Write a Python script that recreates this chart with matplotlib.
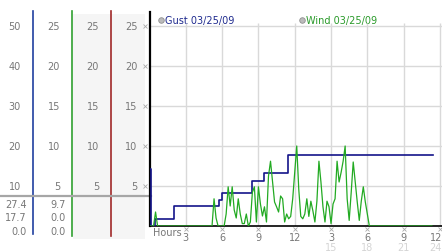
import matplotlib
matplotlib.use('Agg')
import matplotlib.pyplot as plt
import matplotlib.transforms as mtransforms
import numpy as np

# gust: step series (hours, value on the 0-50 scale)
gust_hours = [0, 0.1, 0.45, 2.0, 5.75, 6.0, 8.5, 9.5, 11.45, 23.4]
gust_vals = [14.25, 0, 1.75, 5.0, 6.5, 8.25, 11.25, 13.25, 17.7, 17.7]

# wind: one reading every 10 minutes (0-25 scale)
wind_vals = ([0, 0, 0, 1.75] + [0] * 28 +
             [3.4, 1.0, 0, 0, 0, 0, 1.5, 4.9, 2.5, 4.9,
              2.0, 1.0, 3.4, 1.5, 0.3, 0.3, 1.5, 0, 0.5, 4.2,
              4.9, 0.5, 4.9, 2.75, 1.25, 2.4, 0.5, 6.25, 8.1, 5.5,
              3.0, 2.4, 1.75, 3.75, 3.4, 0.5, 1.5, 0.9, 1.2, 3.4,
              6.7, 10.0, 4.6, 1.2, 0.9, 1.5, 3.4, 1.2, 3.1, 1.9,
              0.5, 3.1, 8.1, 5.5, 2.4, 0.5, 3.1, 2.4, 0.3, 2.75,
              3.4, 8.1, 5.5, 6.7, 8.1, 10.0, 3.4, 0.7, 4.2, 8.0,
              5.5, 3.0, 0.7, 3.1, 4.9, 3.0, 1.5] + [0] * 32)

left_scale = [50, 40, 30, 20, 10]
right_scale = [25, 20, 15, 10, 5]
hour_ticks = [3, 6, 9, 12, 15, 18, 21, 24]
hour_labels = ['3', '6', '9', '12', '3', '6', '9', '12']
hour_labels2 = ['', '', '', '', '15', '18', '21', '24']
gust_stats = ['27.4', '17.7', '0.0']
wind_stats = ['9.7', '0.0', '0.0']

navy = '#14148a'
green = '#22aa22'
txt = '#777777'
fs = 7
plt.rcParams['font.family'] = 'DejaVu Sans'

fig = plt.figure(figsize=(4.42, 2.53), dpi=100, facecolor='white')

# pixel-space layer for the left panel
bg = fig.add_axes([0, 0, 1, 1])
bg.set_xlim(0, 442)
bg.set_ylim(253, 0)
bg.axis('off')

xmax = 24.17
ax = fig.add_axes([149.5 / 442, 1 - 227 / 253, 292.5 / 442, 214 / 253])
ax.patch.set_visible(False)
ax.set_xlim(0, xmax)
ax.set_ylim(0, 53.5)
ax.set_xticks([])
ax.set_yticks([])
for s in ['top', 'right']:
    ax.spines[s].set_visible(False)
ax.spines['left'].set_linewidth(1.6)
ax.spines['bottom'].set_linewidth(1.2)

# grid
ax.hlines(left_scale, 0, xmax, color='#d9d9d9', lw=1, zorder=0)
ax.vlines(hour_ticks, 0, 50.75, color='#d9d9d9', lw=1, zorder=0)

ax.step(gust_hours, gust_vals, where='post', color=navy, lw=1.2, zorder=3)

ax2 = ax.twinx()
ax2.set_ylim(0, 53.5 / 2)
ax2.axis('off')
wind_hours = np.arange(len(wind_vals)) / 6
ax2.plot(wind_hours, wind_vals, color=green, lw=0.9, zorder=2)

# x tick labels
xt = ax.get_xaxis_transform()
px = 1 / 214
for h, l1, l2 in zip(hour_ticks, hour_labels, hour_labels2):
    ax.plot(h, -3 * px, marker='x', ms=2.2, mew=0.6, color='#aaaaaa',
            transform=xt, clip_on=False)
    xpos, ha = (xmax, 'right') if h == hour_ticks[-1] else (h, 'center')
    ax.text(xpos, -11 * px, l1, transform=xt, ha=ha, va='center',
            fontsize=fs, color=txt)
    ax.text(xpos, -21 * px, l2, transform=xt, ha=ha, va='center',
            fontsize=fs, color='#d4d4d4')
ax.text(0.3, -5.5 * px, 'Hours', transform=xt, ha='left', va='center',
        fontsize=fs, color=txt)

# left panel
bg.add_patch(plt.Rectangle((73, 15), 72, 225, color='#f5f5f5', lw=0, zorder=0))
bg.plot([33, 33], [12, 235], color='#2040a0', lw=1.2)
bg.plot([72, 72], [12, 237], color='#30a030', lw=1.2)
bg.plot([111, 111], [12, 237], color='#a02828', lw=1.2)
bg.plot([0, 151], [197, 197], color='#a6a6a6', lw=1.6)

tr = mtransforms.blended_transform_factory(bg.transData, ax.transData)
for a, b in zip(left_scale, right_scale):
    bg.text(21, a, str(a), transform=tr, ha='right', va='center', fontsize=fs, color=txt)
    for xr in [60, 99, 137.5]:
        bg.text(xr, a, str(b), transform=tr, ha='right', va='center', fontsize=fs, color=txt)
    bg.plot(145, a, marker='x', ms=2.2, mew=0.6, color='#aaaaaa', transform=tr, clip_on=False)

for i, (g, w) in enumerate(zip(gust_stats, wind_stats)):
    y = 205 + i * 13.5
    bg.text(27, y, g, ha='right', va='center', fontsize=fs, color=txt)
    bg.text(66, y, w, ha='right', va='center', fontsize=fs, color=txt)

# legend
bg.plot(160.7, 20.7, 'o', ms=4, mfc='#bbbbbb', mec='#909090', mew=0.6)
bg.text(165, 20.7, 'Gust 03/25/09', ha='left', va='center', fontsize=fs, color='#1e2a8e')
bg.plot(301.7, 20.7, 'o', ms=4, mfc='#bbbbbb', mec='#909090', mew=0.6)
bg.text(306, 20.7, 'Wind 03/25/09', ha='left', va='center', fontsize=fs, color='#2a9a2a')

fig.savefig('out.png', dpi=100, facecolor='white')
